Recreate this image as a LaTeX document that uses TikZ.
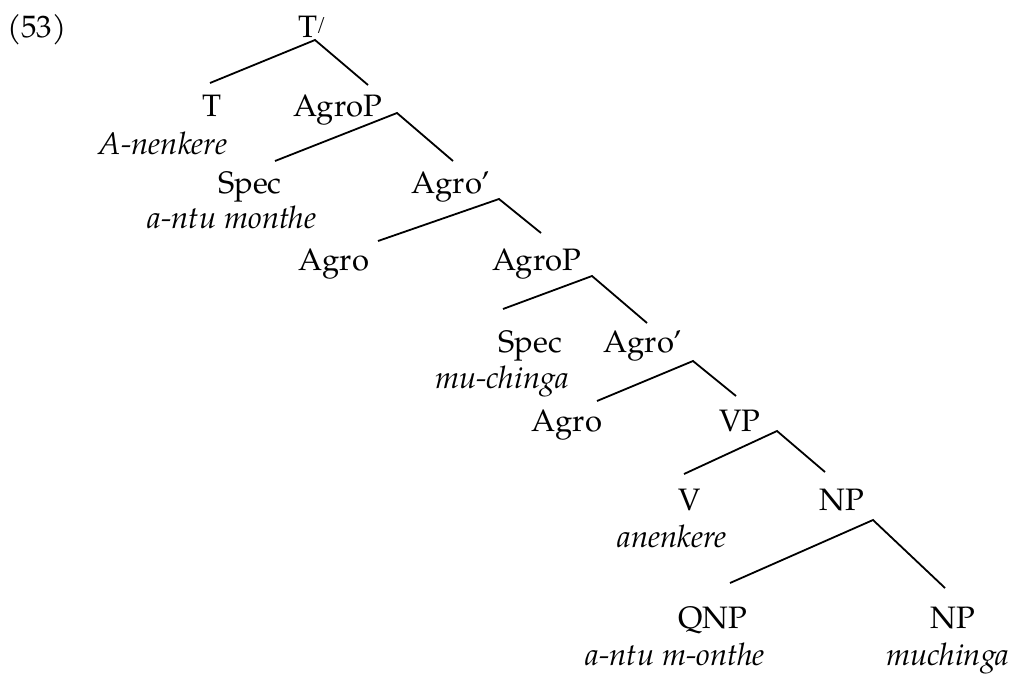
\documentclass[tikz,border=0pt]{standalone}
\usepackage{fontspec}
\setmainfont{TeX Gyre Pagella}
\begin{document}
\begin{tikzpicture}[x=0.5pt,y=-0.5pt,
  lab/.style={anchor=base,inner sep=0pt,font=\fontsize{15.5}{18}\selectfont},
  gl/.style={lab,font=\fontsize{15.5}{18}\selectfont\itshape},
  br/.style={line width=0.9pt}]
\useasboundingbox (0,0) rectangle (1032,675);
% labels
\node[lab] (ex) at (37,37) {(53)};
\node[lab,anchor=base west] (Tbar) at (298,37) {T\kern-0.5pt\raisebox{0.22em}{\fontsize{10}{10}\selectfont /}};
\node[lab] (T) at (212,116) {T};
\node[gl] (Tg) at (163,154) {A-nenkere};
\node[lab] (AgroPa) at (338,116) {AgroP};
\node[lab] (SpecA) at (250,193) {Spec};
\node[gl] (SpecAg) at (232,228) {a-ntu monthe};
\node[lab] (AgrobA) at (451,193) {Agro’};
\node[lab] (AgroA) at (334,270) {Agro};
\node[lab] (AgroPb) at (537,270) {AgroP};
\node[lab] (SpecB) at (530,352) {Spec};
\node[gl] (SpecBg) at (502,388) {mu-chinga};
\node[lab] (AgrobB) at (643,352) {Agro’};
\node[lab] (AgroB) at (567,431) {Agro};
\node[lab] (VP) at (740,431) {VP};
\node[lab] (V) at (690,510) {V};
\node[gl] (Vg) at (672,547) {anenkere};
\node[lab] (NPa) at (842,510) {NP};
\node[lab] (QNP) at (713,628) {QNP};
\node[gl] (QNPg) at (675,665) {a-ntu m-onthe};
\node[lab] (NPb) at (953,628) {NP};
\node[gl] (NPbg) at (948,665) {muchinga};
% branch points
\coordinate (Tbar-top) at (315,40);
\coordinate (T-top) at (210,83);
\coordinate (AgroPa-top) at (368,85);
\coordinate (AgroPa-bot) at (397,113);
\coordinate (SpecA-top) at (275,161);
\coordinate (AgrobA-top) at (453,161);
\coordinate (AgrobA-bot) at (499,199);
\coordinate (AgroA-top) at (378,241);
\coordinate (AgroPb-top) at (541,233);
\coordinate (AgroPb-bot) at (592,276);
\coordinate (SpecB-top) at (503,309);
\coordinate (AgrobB-top) at (647,323);
\coordinate (AgrobB-bot) at (693,361);
\coordinate (AgroB-top) at (597,401);
\coordinate (VP-top) at (736,396);
\coordinate (VP-bot) at (777,431);
\coordinate (V-top) at (684,474);
\coordinate (NPa-top) at (825,472);
\coordinate (NPa-bot) at (873,520);
\coordinate (QNP-top) at (730,583);
\coordinate (NPb-top) at (945,588);
% branches
\draw[br] (T-top) -- (Tbar-top) -- (AgroPa-top);
\draw[br] (SpecA-top) -- (AgroPa-bot) -- (AgrobA-top);
\draw[br] (AgroA-top) -- (AgrobA-bot) -- (AgroPb-top);
\draw[br] (SpecB-top) -- (AgroPb-bot) -- (AgrobB-top);
\draw[br] (AgroB-top) -- (AgrobB-bot) -- (VP-top);
\draw[br] (V-top) -- (VP-bot) -- (NPa-top);
\draw[br] (QNP-top) -- (NPa-bot) -- (NPb-top);
\end{tikzpicture}
\end{document}
